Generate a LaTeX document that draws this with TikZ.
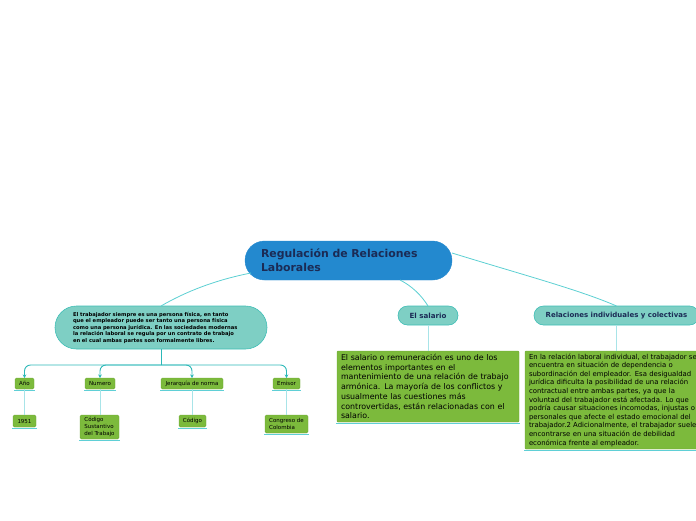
\documentclass[tikz,border=0pt]{standalone}
\usepackage{fontspec}
\setmainfont{DejaVu Sans}
\usetikzlibrary{arrows.meta}
\definecolor{cblue}{HTML}{2389CF}
\definecolor{ctitle}{HTML}{1B2B55}
\definecolor{cteal}{HTML}{7ECFC4}
\definecolor{ctealb}{HTML}{3DBDB5}
\definecolor{cgreen}{HTML}{7CBA3C}
\definecolor{cgreenb}{HTML}{6CA834}
\definecolor{cline}{HTML}{5CCFD2}
\definecolor{clight}{HTML}{A8E4E8}
\definecolor{cunder}{HTML}{5FCFD6}
\definecolor{ctrunk}{HTML}{2CB8B8}
\tikzset{
  base/.style={anchor=north west, inner ysep=0pt, outer sep=0pt, align=left},
  mainbox/.style={base, fill=cblue, draw=cblue, rounded corners=19.5pt, text=ctitle,
    font=\fontsize{10.9}{14}\selectfont\bfseries},
  tealbox/.style={base, fill=cteal, draw=ctealb, line width=0.6pt, text=black},
  greenbox/.style={base, fill=cgreen, draw=cgreenb, line width=0.4pt, rounded corners=1.5pt, text=black},
  smallbox/.style={greenbox, align=center, inner xsep=0pt, font=\fontsize{5.5}{6.8}\selectfont},
  conn/.style={draw=cline, line width=0.8pt},
  lconn/.style={draw=clight, line width=0.9pt},
  under/.style={draw=cunder, line width=1pt},
  trunk/.style={draw=ctrunk, line width=0.9pt, rounded corners=6pt,
    -{Stealth[length=3.5pt,width=3.5pt]}},
}
\begin{document}
\begin{tikzpicture}[x=1pt,y=-1pt]
\useasboundingbox (0,0) rectangle (696,520);
\clip (0,0) rectangle (696,520);

% central
\node[mainbox, minimum width=207, minimum height=39, inner xsep=16pt, text width=175pt] (c) at (245,241)
  {Regulación de Relaciones\\Laborales};

% level 1
\node[tealbox, rounded corners=21.5pt, minimum width=212, minimum height=43, inner xsep=18pt, text width=176pt,
  font=\fontsize{5.2}{6.5}\selectfont\bfseries] (l) at (55,306)
  {El trabajador siempre es una persona física, en tanto\\
   que el empleador puede ser tanto una persona física\\
   como una persona jurídica. En las sociedades modernas\\
   la relación laboral se regula por un contrato de trabajo\\
   en el cual ambas partes son formalmente libres.};

\node[tealbox, rounded corners=9.5pt, minimum width=60, minimum height=19, inner xsep=0pt, align=center,
  font=\fontsize{7.1}{8}\selectfont\bfseries, text=ctitle] (s) at (398,306) {El salario};

\node[tealbox, rounded corners=9.5pt, minimum width=165, minimum height=19, inner xsep=0pt, align=center,
  font=\fontsize{7}{8}\selectfont\bfseries, text=ctitle] (r) at (534,306) {Relaciones individuales y colectivas};

% text boxes
\node[greenbox, rounded corners=1pt, minimum width=182, minimum height=71, inner xsep=4pt, text width=174pt,
  font=\fontsize{7.9}{9.7}\selectfont] (st) at (337,351)
  {El salario o remuneración es uno de los\\
   elementos importantes en el\\
   mantenimiento de una relación de trabajo\\
   armónica. La mayoría de los conflictos y\\
   usualmente las cuestiones más\\
   controvertidas, están relacionadas con el\\
   salario.};

\node[greenbox, rounded corners=1pt, minimum width=200, minimum height=98, inner xsep=4pt, text width=192pt,
  font=\fontsize{6.9}{8.6}\selectfont] (rt) at (525,351)
  {En la relación laboral individual, el trabajador se\\
   encuentra en situación de dependencia o\\
   subordinación del empleador. Esa desigualdad\\
   jurídica dificulta la posibilidad de una relación\\
   contractual entre ambas partes, ya que la\\
   voluntad del trabajador está afectada. Lo que\\
   podría causar situaciones incomodas, injustas o\\
   personales que afecte el estado emocional del\\
   trabajador.2 Adicionalmente, el trabajador suele\\
   encontrarse en una situación de debilidad\\
   económica frente al empleador.};

% small nodes row 1
\node[smallbox, minimum width=19, minimum height=11] (a1) at (15,378) {Año};
\node[smallbox, minimum width=30, minimum height=11] (a2) at (85,378) {Numero};
\node[smallbox, minimum width=62, minimum height=11] (a3) at (161,378) {Jerarquía de norma};
\node[smallbox, minimum width=27, minimum height=11] (a4) at (273,378) {Emisor};

% small nodes row 2
\node[smallbox, minimum width=23, minimum height=12] (b1) at (13,415) {1951};
\node[smallbox, minimum width=39, minimum height=24, align=left, inner xsep=3pt] (b2) at (80,415)
  {Código\\Sustantivo\\del Trabajo};
\node[smallbox, minimum width=27, minimum height=12] (b3) at (179,415) {Código};
\node[smallbox, minimum width=43, minimum height=18, align=left, inner xsep=3pt] (b4) at (265,415)
  {Congreso de\\Colombia};

% underlines
\foreach \n in {a1,a2,a3,a4,b1,b2,b3,b4,st,rt}{
  \draw[under] ([shift={(-1pt,-1.5pt)}]\n.south west) -- ([shift={(1pt,-1.5pt)}]\n.south east);
}

% connectors from central
\draw[conn] ([shift={(6,-7)}]c.south west) .. controls (215,280) and (185,292) .. ([xshift=-106]l.north east);
\draw[conn] ([xshift=155]c.south west) .. controls (412,286) and (422,296) .. (s.north);
\draw[conn] ([yshift=-12]c.north east) .. controls (520,274) and (580,290) .. (r.north);

% trunk from left node
\coordinate (j) at (161,365);
\draw[draw=ctrunk, line width=0.9pt] ([xshift=-106]l.south east) -- (j);
\foreach \n in {a1,a2,a3,a4}{
  \draw[trunk] (j) -- (\n.north |- j) -- (\n.north);
}

% vertical connectors
\draw[lconn] (a1.south) -- (a1.south |- b1.north);
\draw[lconn] (a2.south) -- (a2.south |- b2.north);
\draw[lconn] (a3.south) -- (a3.south |- b3.north);
\draw[lconn] (a4.south) -- (a4.south |- b4.north);
\draw[lconn] (s.south) -- (s.south |- st.north);
\draw[lconn] (r.south) -- (r.south |- rt.north);
\end{tikzpicture}
\end{document}
